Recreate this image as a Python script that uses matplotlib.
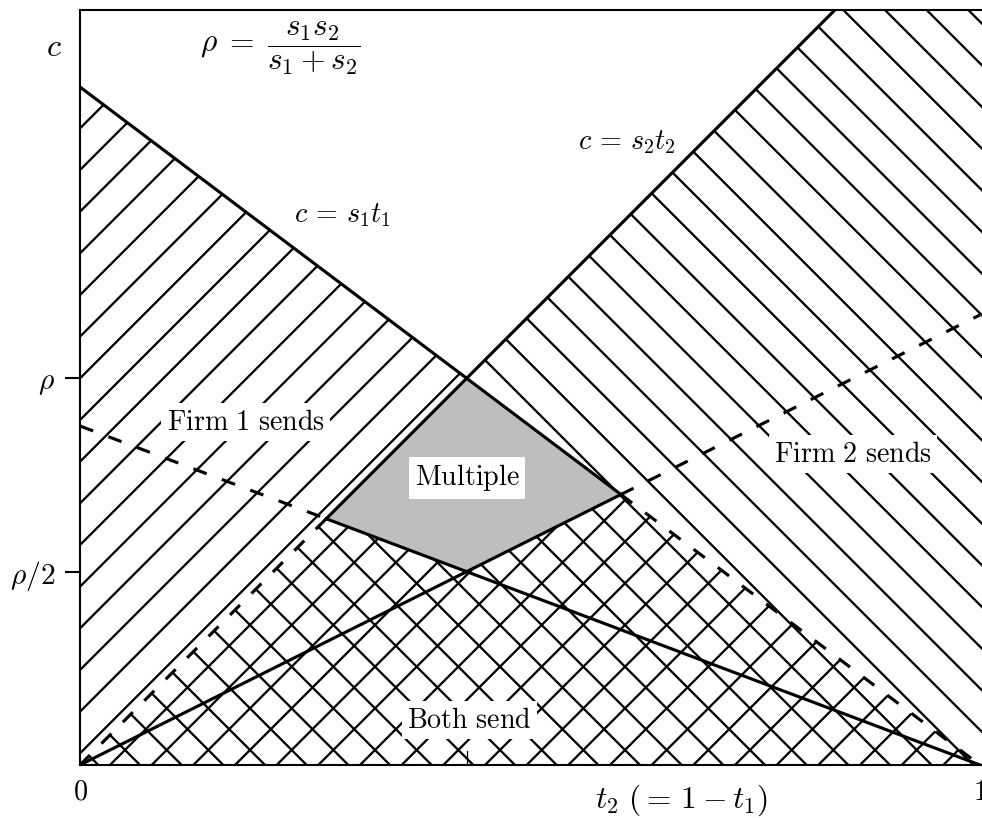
import numpy as np
import matplotlib.pyplot as plt
from matplotlib.patches import Polygon

DPI = 125
f = 150 / DPI   # keeps sizes in pixels the same as tuned at 150 dpi

plt.rcParams['mathtext.fontset'] = 'cm'
plt.rcParams['hatch.linewidth'] = 1.1 * f

# slopes of the two boundary lines (rho is the unit on the c axis)
s1 = 1.752
s2 = 2.326
y_max = 1.951
x_max = 902 / 900

rho = s1 * s2 / (s1 + s2)
t_star = s1 / (s1 + s2)          # where c = s1 t1 meets c = s2 t2
a = s1 / (s1 + 2 * s2)           # c = s2 t2 meets c = s1 t1 / 2
b = 2 * s1 / (2 * s1 + s2)       # c = s1 t1 meets c = s2 t2 / 2

ytick_vals = [rho / 2, rho]
ytick_labels = [r'$\rho/2$', r'$\rho$']
xtick_vals = [0, 1]
xtick_labels = [r'$0$', r'$1$']

region_labels = ['Firm 1 sends', 'Multiple', 'Firm 2 sends', 'Both send']
region_pos = [(0.184, 0.886), (0.43, 0.742), (0.859, 0.804), (0.433, 0.116)]

fig = plt.figure(figsize=(982 / DPI, 818 / DPI), dpi=DPI)
ax = fig.add_axes([80 / 982, 53 / 818, 902 / 982, 755 / 818])
ax.set_xlim(0, x_max)
ax.set_ylim(0, y_max)

# hatched regions
firm1 = [(0, 0), (0, s1), (t_star, rho), (a, s2 * a), (t_star, rho / 2),
         (b, s1 * (1 - b)), (1, 0)]
firm2 = [(0, 0), (a, s2 * a), (t_star, rho / 2), (b, s1 * (1 - b)),
         (t_star, rho), (y_max / s2, y_max), (x_max, y_max), (x_max, 0)]
multi = [(t_star, rho), (a, s2 * a), (t_star, rho / 2), (b, s1 * (1 - b))]

ax.add_patch(Polygon(firm1, closed=True, facecolor='none', edgecolor='black',
                     linewidth=0, hatch='/'))
ax.add_patch(Polygon(firm2, closed=True, facecolor='none', edgecolor='black',
                     linewidth=0, hatch='\\'))
ax.add_patch(Polygon(multi, closed=True, facecolor='#bebebe', edgecolor='none'))

lw = 1.5 * f
dash = (4.5, 5.2)

# c = s1 t1
t = np.array([0, b])
ax.plot(t, s1 * (1 - t), color='k', lw=lw)
t = np.array([b, 1])
ax.plot(t, s1 * (1 - t), color='k', lw=lw, dashes=dash)
# c = s2 t2
t = np.array([0, a])
ax.plot(t, s2 * t, color='k', lw=lw, dashes=dash)
t = np.array([a, y_max / s2])
ax.plot(t, s2 * t, color='k', lw=lw)
# c = s1 t1 / 2
t = np.array([0, a])
ax.plot(t, s1 * (1 - t) / 2, color='k', lw=lw, dashes=dash)
t = np.array([a, 1])
ax.plot(t, s1 * (1 - t) / 2, color='k', lw=lw)
# c = s2 t2 / 2
t = np.array([0, b])
ax.plot(t, s2 * t / 2, color='k', lw=lw)
t = np.array([b, 1])
ax.plot(t, s2 * t / 2, color='k', lw=lw, dashes=dash)

# small inward tick at t*
ax.plot([t_star, t_star], [0, 0.035], color='k', lw=0.6 * f)

fs = 13.5 * f
for lab, (x, y) in zip(region_labels, region_pos):
    txt = r'$\mathrm{' + lab.replace(' ', r'\ ') + '}$'
    ax.text(x, y, txt, fontsize=fs, ha='center', va='center',
            bbox=dict(facecolor='white', edgecolor='none', pad=2.5 * f))

ax.text(0.222, 1.853, r'$\rho\;=\;\dfrac{s_1 s_2}{s_1 + s_2}$', fontsize=fs * 1.12,
        ha='center', va='center')
ax.text(0.292, 1.421, r'$c\,=\,s_1 t_1$', fontsize=fs, ha='center', va='center')
ax.text(0.608, 1.61, r'$c\,=\,s_2 t_2$', fontsize=fs, ha='center', va='center')
ax.text(-0.02, 1.853, r'$c$', fontsize=fs * 1.15, ha='right', va='center')
ax.text(0.668, -0.09, r'$t_2\ (=\,1 - t_1)$', fontsize=fs * 1.12,
        ha='center', va='center')

ax.set_yticks(ytick_vals)
ax.set_yticklabels(ytick_labels)
ax.set_xticks(xtick_vals)
ax.set_xticklabels(xtick_labels)
ax.tick_params(axis='y', direction='out', length=7 * f, width=1 * f,
               labelsize=fs * 1.05, pad=5 * f)
ax.tick_params(axis='x', length=0, labelsize=fs, pad=6 * f)

ax.spines['right'].set_visible(False)
for s in ['top', 'left', 'bottom']:
    ax.spines[s].set_linewidth(1.0 * f)

fig.savefig('out.png', dpi=DPI)
